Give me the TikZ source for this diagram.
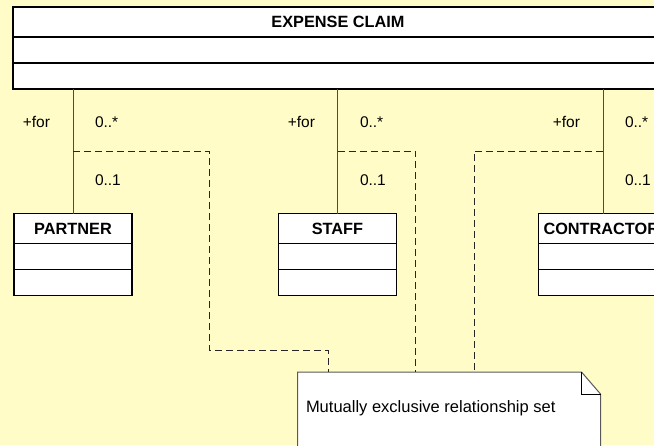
\documentclass[tikz,border=0pt]{standalone}
\usepackage{fontspec}
\setmainfont{Liberation Sans}
\begin{document}
\begin{tikzpicture}[x=1pt,y=-1pt,
  every node/.style={inner sep=0pt,outer sep=0pt},
  txt/.style={font=\fontsize{15.5}{18}\selectfont},
  notetxt/.style={font=\fontsize{16.5}{19}\selectfont},
  headcell/.style={draw=black,line width=1.1pt,fill=white,minimum height=30pt,
    font=\fontsize{16.3}{19}\selectfont\bfseries},
  cell/.style={draw=black,line width=1.1pt,fill=white,minimum height=26pt},
  assoc/.style={draw=black!70,line width=1pt},
  anchorline/.style={draw=black!85,line width=1pt,dash pattern=on 7pt off 4pt},
  notebox/.style={draw=black!65,line width=1pt,fill=white}]

% canvas
\fill[yellow!22!white] (0,0) rectangle (654,445);
\useasboundingbox (0,0) rectangle (654,445);

% EXPENSE CLAIM class (runs past the right edge)
\node[headcell,minimum width=662pt,anchor=north west] (ec) at (13,7) {};
\node[cell,minimum width=662pt,anchor=north west] (ecattr) at (ec.south west) {};
\node[cell,minimum width=662pt,anchor=north west] (ecops) at (ecattr.south west) {};
\node[font=\fontsize{16.3}{19}\selectfont\bfseries] (ectitle) at (338,22) {EXPENSE CLAIM};

% subclass boxes
\node[headcell,minimum width=118pt,anchor=north] (partner) at (73,213.5) {PARTNER};
\node[cell,minimum width=118pt,anchor=north] (partnerattr) at (partner.south) {};
\node[cell,minimum width=118pt,anchor=north] (partnerops) at (partnerattr.south) {};

\node[headcell,minimum width=118pt,anchor=north] (staff) at (337.5,213.5) {STAFF};
\node[cell,minimum width=118pt,anchor=north] (staffattr) at (staff.south) {};
\node[cell,minimum width=118pt,anchor=north] (staffops) at (staffattr.south) {};

\node[headcell,minimum width=129pt,anchor=north,text width=119pt,align=left] (contractor) at (603,213.5) {CONTRACTOR};
\node[cell,minimum width=129pt,anchor=north] (contractorattr) at (contractor.south) {};
\node[cell,minimum width=129pt,anchor=north] (contractorops) at (contractorattr.south) {};

% associations
\draw[assoc] (ecops.south -| partner.north) -- (partner.north);
\draw[assoc] (ecops.south -| staff.north) -- (staff.north);
\draw[assoc] (ecops.south -| contractor.north) -- (contractor.north);

% role names and multiplicities
\node[txt,anchor=east] (pfor) at (50,122) {+for};
\node[txt,anchor=west] (pmany) at (95,122) {0..*};
\node[txt,anchor=west] (pone) at (95,180) {0..1};
\node[txt,anchor=east] (sfor) at (315,122) {+for};
\node[txt,anchor=west] (smany) at (360,122) {0..*};
\node[txt,anchor=west] (sone) at (360,180) {0..1};
\node[txt,anchor=east] (cfor) at (580,122) {+for};
\node[txt,anchor=west] (cmany) at (625,122) {0..*};
\node[txt,anchor=west] (cone) at (625,180) {0..1};

% note with folded corner
\node[minimum width=303pt,minimum height=90pt,anchor=north west] (note) at (297.5,372) {};
\draw[notebox] (note.north west) -- ([xshift=-19pt]note.north east)
  -- ([yshift=-22pt]note.north east) -- (note.south east) -- (note.south west) -- cycle;
\draw[draw=black,line width=1pt] ([xshift=-19pt]note.north east) |- ([yshift=-22pt]note.north east);
\node[notetxt,anchor=west] (notetext) at (306,408) {Mutually exclusive relationship set};

% anchor lines from the associations to the note
\coordinate (pj) at (partner.north |- 0,151);
\coordinate (sj) at (staff.north |- 0,151);
\coordinate (cj) at (contractor.north |- 0,151);
\draw[anchorline] (pj) -- (209,151) -- (209,350) -- (328,350) -- (note.north -| 328,0);
\draw[anchorline] (sj) -- (415.5,151) -- (note.north -| 415.5,0);
\draw[anchorline] (cj) -- (474,151) -- (note.north -| 474,0);
\end{tikzpicture}
\end{document}
